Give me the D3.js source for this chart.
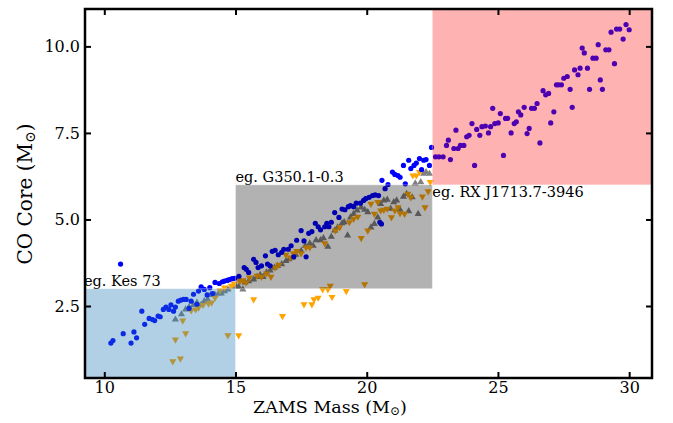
<!DOCTYPE html>
<html>
<head>
<meta charset="utf-8">
<script src="https://cdn.jsdelivr.net/npm/d3@7"></script>
<style>
  body { margin: 0; background: #fff; }
  text { font-family: "DejaVu Serif", serif; }
</style>
</head>
<body>
<svg id="chart" width="673" height="423"></svg>
<script>
// blue circles (the ones above 22.5 sit under the red box and look purple)
var blueMass = [10.25,10.33,10.62,10.72,11.02,11.13,11.23,11.43,11.54,11.71,11.84,11.92,12.05,12.13,12.25,12.35,12.46,12.54,12.64,12.71,
  12.82,12.92,13.02,13.12,13.23,13.31,13.40,13.53,13.59,13.69,13.81,13.92,14.02,14.13,14.22,14.38,14.50,14.58,14.68,14.76,
  14.87,14.97,15.13,15.33,15.41,15.50,15.69,15.78,15.86,15.99,16.14,16.22,16.32,16.40,16.51,16.63,16.76,16.84,17.01,17.12,
  17.22,17.33,17.50,17.61,17.69,17.79,17.91,18.04,18.15,18.24,18.40,18.48,18.56,18.65,18.78,18.94,19.06,19.17,19.30,19.38,
  19.50,19.60,19.76,19.88,19.96,20.09,20.22,20.32,20.45,20.50,20.56,20.58,20.70,20.81,20.98,21.07,21.19,21.27,21.40,21.47,
  21.60,21.68,21.80,21.89,22.01,22.09,22.17,22.26,22.39,22.47,
  22.62,22.75,22.91,23.19,23.04,23.11,23.32,23.40,23.48,23.57,23.70,23.81,23.90,24.01,24.11,24.19,24.31,24.39,24.52,24.64,
  24.72,24.80,24.88,25.01,25.09,25.21,25.29,25.37,25.50,25.62,25.70,25.78,25.87,26.00,26.11,26.19,26.28,26.39,26.49,26.60,
  26.72,26.82,26.93,27.01,27.13,27.23,27.31,27.42,27.51,27.64,27.75,27.83,27.92,28.05,28.13,28.21,28.29,28.41,28.49,28.62,
  28.74,28.82,28.90,28.98,29.11,29.23,29.31,29.44,29.52,29.64,29.77,29.88,30.00];
var blueCore = [1.43,1.50,3.71,1.70,1.43,1.75,1.58,2.35,1.97,2.14,2.11,2.08,2.21,2.19,2.40,2.47,2.40,2.53,2.35,2.47,
  2.64,2.67,2.69,2.69,2.43,2.64,2.84,2.55,2.93,3.05,2.98,2.82,3.03,2.86,3.18,3.15,3.20,3.22,3.24,3.26,
  3.29,3.30,3.36,3.61,3.56,3.47,3.85,3.76,3.61,3.66,3.95,3.71,3.66,4.08,4.11,3.98,4.05,4.14,4.14,4.24,
  3.92,4.40,4.68,4.38,3.92,4.60,4.65,4.89,4.79,4.70,4.79,4.89,4.79,4.92,5.20,5.06,5.30,5.28,5.37,5.40,
  5.37,5.47,5.47,5.55,5.60,5.64,5.69,5.71,5.69,4.92,4.87,6.13,5.89,6.01,6.37,6.30,6.27,6.22,6.56,6.03,
  6.71,6.47,6.56,6.63,6.76,6.44,6.71,6.73,6.56,7.08,
  6.81,6.81,6.81,6.73,7.14,7.29,7.05,7.58,7.05,7.14,7.14,7.39,7.43,7.77,6.56,7.60,7.43,7.68,7.70,7.50,
  7.68,8.21,7.77,7.79,8.06,6.85,7.92,7.92,7.50,7.77,7.82,8.11,8.02,8.24,7.48,7.63,8.21,8.21,8.35,7.21,
  8.72,8.60,8.64,7.79,8.11,8.89,8.89,8.89,9.08,9.13,8.76,8.24,9.32,9.18,9.37,9.95,9.81,9.37,8.76,9.66,
  9.66,10.05,9.03,8.76,9.90,9.90,10.41,9.50,10.50,10.50,10.21,10.63,10.48];

// grey up triangles
var grayMass = [12.71,12.94,13.10,13.23,13.40,13.53,13.69,13.81,13.94,14.05,14.22,14.35,14.46,14.58,14.71,14.87,15.00,15.12,15.28,15.36,
  15.50,15.69,15.82,15.94,16.05,16.18,16.32,16.48,16.60,16.76,16.92,17.04,17.17,17.30,17.50,17.66,17.83,17.96,18.07,18.24,
  18.35,18.52,18.65,18.78,18.89,19.06,19.14,19.27,19.38,19.50,19.63,19.79,19.92,20.04,20.16,20.29,20.42,20.53,20.65,20.78,
  20.91,21.03,21.14,21.27,21.40,21.52,21.60,21.73,21.85,21.96,22.06,22.17,22.26,22.39];
var grayCore = [2.11,2.26,2.40,2.47,2.53,2.60,2.53,2.64,2.69,2.82,2.82,2.86,2.86,2.93,2.98,3.05,3.08,3.05,2.98,3.18,
  3.22,3.27,3.34,3.40,3.34,3.47,3.53,3.61,3.66,3.71,3.80,3.85,3.90,3.98,4.09,4.24,4.31,4.24,4.40,4.40,
  4.46,4.21,4.50,4.68,4.77,4.89,4.92,4.54,5.06,5.16,5.26,5.35,5.28,5.21,4.77,4.87,5.06,5.45,5.55,5.57,
  5.31,5.50,5.55,5.28,5.66,5.74,5.24,5.64,6.04,5.16,6.08,6.32,6.37,6.32];

// orange down triangles
var orangeMass = [12.61,12.90,12.71,13.10,12.99,13.31,13.48,13.59,13.76,13.97,14.09,14.22,14.41,14.58,14.71,15.12,14.84,14.95,15.17,15.28,
  15.40,15.53,15.69,15.82,15.99,16.18,16.35,16.51,16.65,16.79,16.92,17.09,17.20,17.33,17.50,17.61,17.69,17.83,17.91,17.99,
  18.15,18.32,18.40,18.52,18.61,18.68,18.81,18.97,19.22,19.34,19.50,19.66,19.79,19.92,20.04,20.16,20.29,20.42,20.53,20.65,
  20.78,20.94,21.07,21.19,21.27,21.44,21.57,21.68,21.76,21.89,22.01,22.12,22.22,22.34,22.42];
var orangeCore = [0.90,0.98,1.53,1.71,2.08,2.37,2.40,2.45,2.53,2.57,2.60,2.74,2.95,3.03,1.65,1.65,3.08,3.15,3.22,3.24,
  3.18,3.32,2.69,3.37,3.34,3.44,3.34,3.61,3.69,2.21,3.98,3.90,4.02,4.09,4.02,2.55,4.19,4.19,2.55,2.69,
  2.74,2.98,4.31,2.98,3.08,2.76,4.68,4.77,2.93,4.92,5.02,5.08,4.46,3.13,4.68,5.45,5.16,5.50,5.26,5.28,
  5.31,5.06,5.26,5.35,5.18,5.16,5.74,5.64,6.27,6.27,6.37,5.66,5.35,5.81,6.08];

var xTicks = [10, 15, 20, 25, 30];
var yTicks = [2.5, 5.0, 7.5, 10.0];

// example regions
var regionNames = ["eg. Kes 73", "eg. G350.1-0.3", "eg. RX J1713.7-3946"];
var regionMass = [[9.265, 15], [15, 22.5], [22.5, 30.87]];
var regionCore = [[0.42, 3.0], [3.0, 6.0], [6.0, 11.08]];

var svg = d3.select("#chart");
var padL = 85, padR = 652, padT = 9, padB = 378;

var x = d3.scaleLinear().domain([9.265, 30.87]).range([padL, padR]);
var y = d3.scaleLinear().domain([0.42, 11.08]).range([padB, padT]);

function pts(xs, ys) {
    return xs.map(function(d, i) { return [d, ys[i]]; });
}

var g = svg.append("g");

var tri = d3.symbol().type(d3.symbolTriangle).size(22);

g.selectAll(".gray")
    .data(pts(grayMass, grayCore))
    .enter()
    .append("path")
    .attr("d", tri)
    .attr("transform", function(d) { return "translate(" + x(d[0]) + "," + y(d[1]) + ")"; })
    .style("fill", "#808080");

g.selectAll(".orange")
    .data(pts(orangeMass, orangeCore))
    .enter()
    .append("path")
    .attr("d", tri)
    .attr("transform", function(d) { return "translate(" + x(d[0]) + "," + y(d[1]) + ") rotate(180)"; })
    .style("fill", "#ffa500");

g.selectAll(".blue")
    .data(pts(blueMass, blueCore))
    .enter()
    .append("circle")
    .attr("cx", function(d) { return x(d[0]); })
    .attr("cy", function(d) { return y(d[1]); })
    .attr("r", 2.6)
    .style("fill", "#0000ff");

// translucent boxes on top of the points
var boxColor = ["#1f77b4", "#000000", "#ff0000"];
var boxAlpha = [0.35, 0.3, 0.3];

g.selectAll(".box")
    .data(regionNames)
    .enter()
    .append("rect")
    .attr("x", function(d, i) { return x(regionMass[i][0]); })
    .attr("y", function(d, i) { return y(regionCore[i][1]); })
    .attr("width", function(d, i) { return x(regionMass[i][1]) - x(regionMass[i][0]); })
    .attr("height", function(d, i) { return y(regionCore[i][0]) - y(regionCore[i][1]); })
    .style("fill", function(d, i) { return boxColor[i]; })
    .style("fill-opacity", function(d, i) { return boxAlpha[i]; })
    .style("stroke", "#ffffff")
    .style("stroke-opacity", 0.35)
    .style("stroke-width", 1);

// labels
g.append("text").attr("x", 84).attr("y", y(3.0) - 3)
    .attr("font-size", "14.5px").text(regionNames[0]);
g.append("text").attr("x", x(15)).attr("y", y(6.0) - 3)
    .attr("font-size", "14.5px").text(regionNames[1]);
g.append("text").attr("x", x(22.5)).attr("y", y(6.0) + 12)
    .attr("font-size", "14.5px").text(regionNames[2]);

// axes, ticks inward on all four sides
svg.append("g").attr("transform", "translate(0," + padB + ")")
    .call(d3.axisBottom(x).tickValues(xTicks).tickSize(-6).tickPadding(4).tickFormat(d3.format("d")));
svg.append("g").attr("transform", "translate(0," + padT + ")")
    .call(d3.axisTop(x).tickValues(xTicks).tickSize(-6).tickFormat(""));
svg.append("g").attr("transform", "translate(" + padL + ",0)")
    .call(d3.axisLeft(y).tickValues(yTicks).tickSize(-6).tickPadding(5).tickFormat(d3.format(".1f")));
svg.append("g").attr("transform", "translate(" + padR + ",0)")
    .call(d3.axisRight(y).tickValues(yTicks).tickSize(-6).tickFormat(""));

svg.selectAll(".domain").remove();
svg.selectAll(".tick line").attr("stroke", "#000").attr("stroke-width", 2);
svg.selectAll(".tick text")
    .attr("font-family", "DejaVu Serif")
    .attr("font-size", "16px")
    .attr("fill", "#000");

svg.append("rect")
    .attr("x", padL).attr("y", padT)
    .attr("width", padR - padL).attr("height", padB - padT)
    .style("fill", "none")
    .attr("stroke", "#000")
    .attr("stroke-width", 2.5);

var xl = svg.append("text")
    .attr("x", 330).attr("y", 413)
    .attr("text-anchor", "middle")
    .attr("font-size", "17.5px");
xl.append("tspan").text("ZAMS Mass (M");
xl.append("tspan").attr("baseline-shift", "-20%").attr("font-size", "12px").text("⊙");
xl.append("tspan").text(")");

var yl = svg.append("text")
    .attr("transform", "translate(32,194) rotate(-90)")
    .attr("text-anchor", "middle")
    .attr("font-size", "20px");
yl.append("tspan").text("CO Core (M");
yl.append("tspan").attr("baseline-shift", "-20%").attr("font-size", "14px").text("⊙");
yl.append("tspan").text(")");
</script>
</body>
</html>
